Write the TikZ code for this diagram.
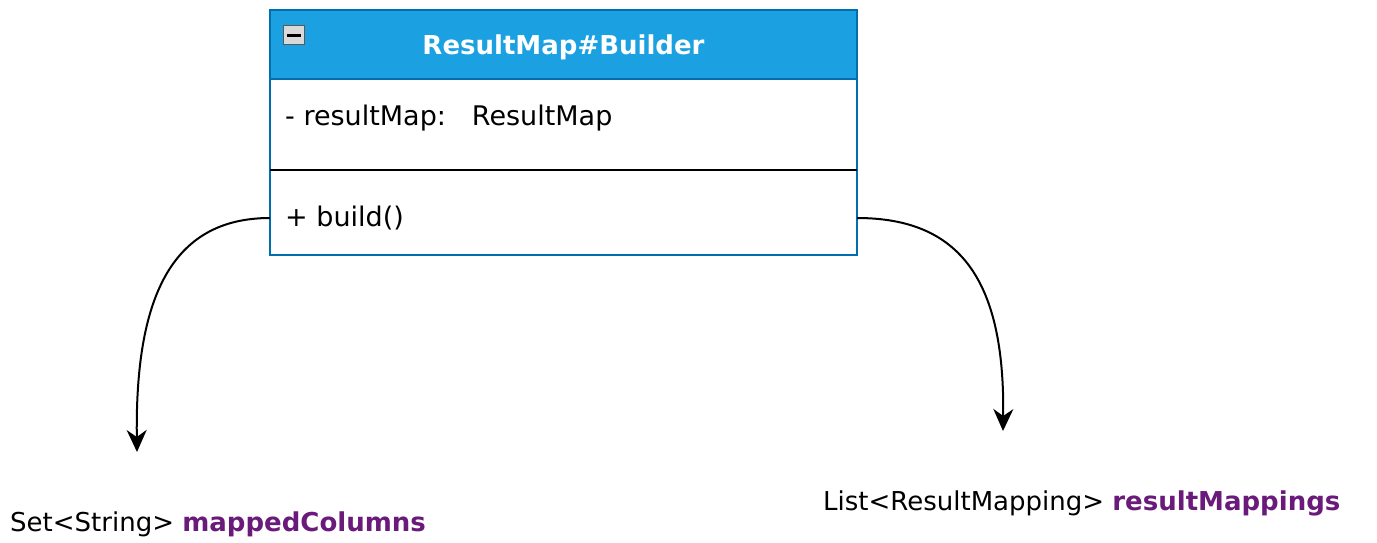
\documentclass[tikz,border=0pt]{standalone}
\usepackage{fontspec}
\setmainfont{DejaVu Sans}
\usetikzlibrary{arrows.meta}
\definecolor{hdr}{HTML}{1BA1E2}
\definecolor{hdrline}{HTML}{006EAF}
\definecolor{purp}{HTML}{6A1A7A}
\begin{document}
\begin{tikzpicture}[x=1pt,y=-1pt,
  boxpart/.style={draw=hdrline,line width=1.5pt,minimum width=587pt,inner sep=0pt,outer sep=0pt},
  rowtext/.style={anchor=west,inner sep=0pt,font=\fontsize{27}{30}\selectfont},
  conn/.style={line width=2pt,-{Stealth[length=22pt,width=20pt,inset=7pt]}},
  lbl/.style={inner sep=0pt,font=\fontsize{26}{30}\selectfont}]
\useasboundingbox (0,0) rectangle (1377,542);
\node[boxpart,fill=white,minimum height=91pt] (attr) at (563.5,124.5) {};
\node[boxpart,fill=white,minimum height=85pt] (meth) at (563.5,212.5) {};
\node[boxpart,fill=hdr,minimum height=69pt] (head) at (563.5,44.5) {};
\draw[black,line width=1.5pt] (attr.south west) -- (attr.south east);
\node[draw=gray!70!black,fill=gray!30,line width=1.5pt,minimum width=21pt,minimum height=19pt,inner sep=0pt] (icon) at (294,35) {};
\draw[line width=3pt] ([xshift=-7pt]icon.center) -- ([xshift=7pt]icon.center);
\node[text=white,font=\bfseries\fontsize{26}{30}\selectfont,inner sep=0pt] (title) at (563.5,47) {ResultMap\#Builder};
\node[rowtext] (attrtext) at (285,118) {- resultMap:\hspace{26pt}ResultMap};
\node[rowtext] (methtext) at (285,218) {+ build()};
\coordinate (lsrc) at (270,218);
\coordinate (rsrc) at (857,218);
\coordinate (ltip) at (137,452);
\coordinate (rtip) at (1003,431);
\draw[conn] (lsrc) .. controls (170,218) and (135,300) .. (ltip);
\draw[conn] (rsrc) .. controls (960,218) and (1005,280) .. (rtip);
\node[lbl,anchor=west] (left) at (10,524) {Set<String> \textcolor{purp}{\bfseries mappedColumns}};
\node[lbl,anchor=west] (right) at (823,503) {List<ResultMapping> \textcolor{purp}{\bfseries resultMappings}};
\end{tikzpicture}
\end{document}
